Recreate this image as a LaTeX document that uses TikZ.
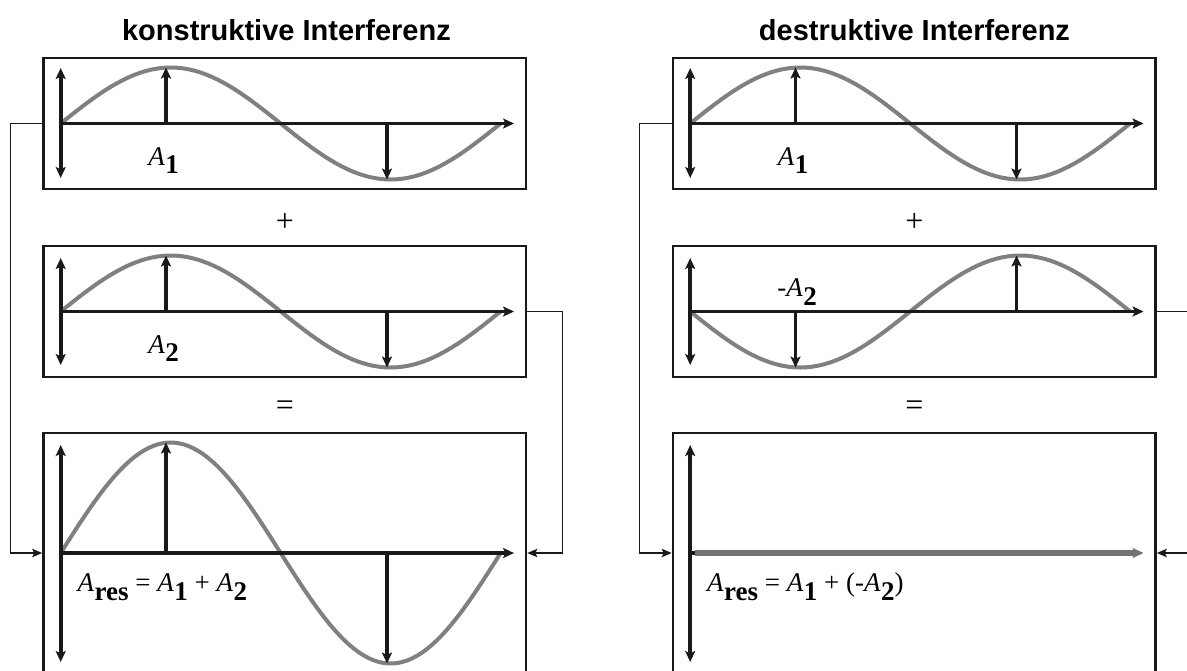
\documentclass[tikz,border=0pt]{standalone}
\usepackage{fontspec}
\setmainfont{Liberation Serif}
\newfontfamily\labelfont{Liberation Serif}
\newfontfamily\headfont{Liberation Sans}
\usetikzlibrary{arrows.meta}

\definecolor{ink}{gray}{0.1}
\definecolor{wavegray}{gray}{0.5}
\definecolor{resgray}{gray}{0.45}

% amplitude label A with bold index
\newcommand{\amp}[1]{\textit{A}\kern0.2pt\raisebox{-0.32em}{\textbf{#1}}}

\begin{document}
\begin{tikzpicture}[x=0.5pt,y=-0.5pt,
  >={Stealth[length=5.5pt,width=5pt,inset=1.2pt]},
  box/.style={draw=ink,line width=1.3pt,inner sep=0pt,minimum width=241.25pt,minimum height=65.5pt},
  bigbox/.style={box,minimum height=120pt},
  axis/.style={ink,line width=1.8pt},
  ampl/.style={ink,line width=1.6pt,->},
  wave/.style={wavegray,line width=2pt},
  link/.style={ink,line width=0.7pt,-{Stealth[length=5pt,width=4.2pt,inset=1pt]}},
  head/.style={font=\headfont\bfseries\fontsize{14.5}{16}\selectfont},
  lbl/.style={font=\labelfont\fontsize{13.5}{15}\selectfont,inner sep=0pt},
  sign/.style={font=\labelfont\fontsize{16}{18}\selectfont,inner sep=0pt}]
\useasboundingbox (0,0) rectangle (1187,670);

% konstruktive Interferenz
\node[head] (kHead) at (286.5,30) {konstruktive Interferenz};
\node[box] (kTop) at (284.75,123.5) {};
\node[box] (kMid) at (284.75,311.5) {};
\node[bigbox] (kRes) at (284.75,553) {};
\node[sign] (kPlus) at (285,222) {+};
\node[sign] (kEq) at (285,408) {=};

\draw[wave] plot[domain=0:360,samples=73] ({60.7+\x*1.222},{123.5-56*sin(\x)});
\draw[axis,<->] (60.7,68) -- (60.7,178);
\draw[axis,->] (60.7,123.5) -- (514,123.5);
\draw[ampl] (166,123.5) -- (166,67.5);
\draw[ampl] (387,123.5) -- (387,179.5);
\node[lbl,anchor=base west] (kA1) at (148,165) {\amp{1}};

\draw[wave] plot[domain=0:360,samples=73] ({60.7+\x*1.222},{311.5-56*sin(\x)});
\draw[axis,<->] (60.7,258) -- (60.7,365);
\draw[axis,->] (60.7,311.5) -- (514,311.5);
\draw[ampl] (166,311.5) -- (166,255.5);
\draw[ampl] (387,311.5) -- (387,367.5);
\node[lbl,anchor=base west] (kA2) at (148,353) {\amp{2}};

\draw[wave] plot[domain=0:360,samples=91] ({60.7+\x*1.222},{553-110.5*sin(\x)});
\draw[axis,<->] (60.7,445) -- (60.7,662);
\draw[axis,->] (60.7,553) -- (514,553);
\draw[ampl] (166,553) -- (166,442.5);
\draw[ampl] (387,553) -- (387,663.5);
\node[lbl,anchor=base west] (kSum) at (77.3,591.7) {\amp{res} = \amp{1} + \amp{2}};

\draw[link] (kTop.west) -- ++(-32,0) |- (kRes.west);
\draw[link] (kMid.east) -- ++(35,0) |- (kRes.east);

% destruktive Interferenz
\node[head] (dHead) at (914.5,30) {destruktive Interferenz};
\node[box] (dTop) at (914.25,123.5) {};
\node[box] (dMid) at (914.25,311.5) {};
\node[bigbox] (dRes) at (914.25,553) {};
\node[sign] (dPlus) at (914.5,222) {+};
\node[sign] (dEq) at (914.5,408) {=};

\draw[wave] plot[domain=0:360,samples=73] ({690.2+\x*1.222},{123.5-56*sin(\x)});
\draw[axis,<->] (690.2,68) -- (690.2,178);
\draw[axis,->] (690.2,123.5) -- (1143.5,123.5);
\draw[ampl] (795.5,123.5) -- (795.5,67.5);
\draw[ampl] (1016.5,123.5) -- (1016.5,179.5);
\node[lbl,anchor=base west] (dA1) at (777.5,165) {\amp{1}};

\draw[wave] plot[domain=0:360,samples=73] ({690.2+\x*1.222},{311.5+56*sin(\x)});
\draw[axis,<->] (690.2,258) -- (690.2,365);
\draw[axis,->] (690.2,311.5) -- (1143.5,311.5);
\draw[ampl] (795.5,311.5) -- (795.5,367.5);
\draw[ampl] (1016.5,311.5) -- (1016.5,255.5);
\node[lbl,anchor=base west] (dA2) at (777,296.7) {-\amp{2}};

\draw[axis,<->] (690.2,445) -- (690.2,662);
\draw[axis] (690.2,553) -- (697,553);
\draw[resgray,line width=2.6pt,->] (695,553) -- (1143.5,553);
\node[lbl,anchor=base west] (dSum) at (706.8,591.7) {\amp{res} = \amp{1} + (-\amp{2})};

\draw[link] (dTop.west) -- ++(-32,0) |- (dRes.west);
\draw[link] (dMid.east) -- ++(35,0) |- (dRes.east);
\end{tikzpicture}
\end{document}
